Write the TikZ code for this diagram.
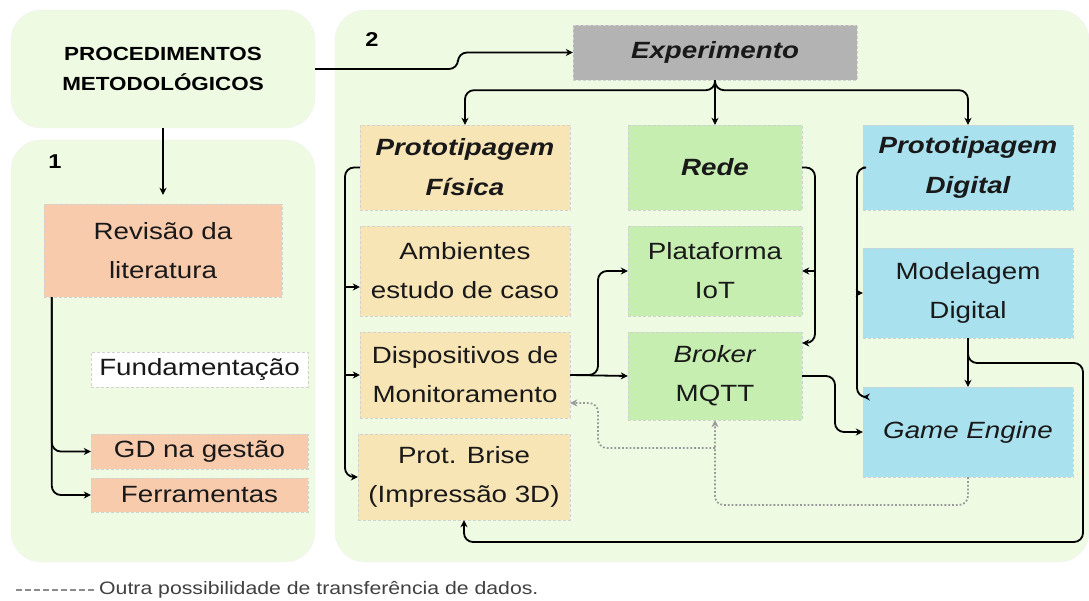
\documentclass[tikz,border=0pt]{standalone}
\usepackage{fontspec}
\setmainfont[FakeStretch=1.18]{Liberation Sans}
\usetikzlibrary{arrows.meta}

\definecolor{fundo}{HTML}{EFFAE3}
\definecolor{salmao}{HTML}{F8CBAD}
\definecolor{areia}{HTML}{F8E5B6}
\definecolor{verde}{HTML}{C6EEB0}
\definecolor{azul}{HTML}{A9E1EF}
\definecolor{cinza}{HTML}{B3B3B3}

\tikzstyle{painel} = [rounded corners=30pt, fill=fundo, draw=black!5, inner sep=0pt]
\tikzstyle{caixa} = [draw=black!18, densely dashed, inner sep=0pt, align=center, text=black!90, font=\fontsize{23.5}{39}\selectfont]
\tikzstyle{titulo} = [caixa, font=\fontsize{23.5}{40}\selectfont\bfseries\itshape]
\tikzstyle{seta} = [->, line width=1.8pt, rounded corners=9pt]
\tikzstyle{ponto} = [->, black!40, line width=1.8pt, dotted, rounded corners=9pt]

\begin{document}
\begin{tikzpicture}[x=1pt, y=-1pt, >={Stealth[length=7pt,width=7pt]}]
	\useasboundingbox (0,0) rectangle (1089,601);
	% paineis
	\node[painel, minimum width=304, minimum height=118, align=center, font=\fontsize{19}{30}\selectfont\bfseries] (proc) at (163,69) {PROCEDIMENTOS\\METODOLÓGICOS};
	\node[painel, minimum width=304, minimum height=422] (etapa1) at (163,351) {};
	\node[painel, minimum width=754, minimum height=552] (etapa2) at (712,286) {};
	\node[font=\fontsize{20}{24}\selectfont\bfseries] (n1) at (55,162) {1};
	\node[font=\fontsize{20}{24}\selectfont\bfseries] (n2) at (372,40) {2};
	% caixas
	\foreach \n/\x/\y/\w/\h/\c/\t in {
		rev/163/250.5/238/93/salmao/{Revisão da\\literatura},
		fund/199.5/369.5/217/35/white/{Fundamentação},
		gd/199.5/451.5/217/35/salmao/{GD na gestão},
		ferr/199.5/495/217/34/salmao/{Ferramentas},
		amb/465/271/210/90/areia/{Ambientes\\estudo de caso},
		disp/465/375/210/86/areia/{Dispositivos de\\Monitoramento},
		brise/464/477/212/86/areia/{Prot. Brise\\(Impressão 3D)},
		iot/715/271/174/90/verde/{Plataforma\\IoT},
		mqtt/715/376/174/88/verde/{\textit{Broker}\\MQTT},
		model/968/293/210/90/azul/{Modelagem\\Digital},
		game/968/432/210/90/azul/{\textit{Game Engine}}}
	\node[caixa, fill=\c, minimum width=\w, minimum height=\h] (\n) at (\x,\y) {\t};
	\node[titulo, fill=cinza, minimum width=284, minimum height=55] (exp) at (715,52.5) {Experimento};
	\node[titulo, fill=areia, minimum width=210, minimum height=85] (pfis) at (465,167.5) {Prototipagem\\Física};
	\node[titulo, fill=verde, minimum width=174, minimum height=85] (rede) at (715,167.5) {Rede};
	\node[titulo, fill=azul, minimum width=210, minimum height=85] (pdig) at (968,167.5) {Prototipagem\\Digital};
	% etapa 1
	\draw[seta] (proc.east) -- (458,69) -- (458,52.5) -- (exp.west);
	\draw[seta, shorten >=9pt] (proc.south) -- (rev.north);
	\draw[seta] ([xshift=8pt]rev.south west) |- (gd.west);
	\draw[seta] ([xshift=8pt]rev.south west) |- (ferr.west);
	% experimento
	\draw[seta] (exp.south) -- ++(0,10) -| (pfis.north);
	\draw[seta] (exp.south) -- ++(0,10) -| (pdig.north);
	\draw[seta] (exp.south) -- (rede.north);
	% prototipagem fisica
	\draw[seta] (pfis.west) -- (345,167.5) |- (brise.west);
	\draw[seta] (345,287) -- (amb.west |- 0,287);
	\draw[seta] (345,375) -- (disp.west);
	% rede
	\draw[seta] (rede.east) -- (815,167.5) |- ([yshift=33pt]mqtt.east);
	\draw[seta] (815,271) -- (iot.east);
	% prototipagem digital
	\draw[seta] (pdig.west) -- (857,167.5) |- ([yshift=35pt]game.west);
	\draw[seta] (857,293) -- (model.west);
	\draw[seta] (model.south) -- (game.north);
	\draw[seta] (model.south) -- (968,363) -- (1083,363) -- (1083,542) -- (464,542) -- (brise.south);
	% dados
	\draw[seta] (disp.east) -- (mqtt.west);
	\draw[seta] (disp.east) -- (598,375) |- (iot.west);
	\draw[seta] (mqtt.east) -- (835,376) |- (game.west);
	\draw[ponto] (game.south) -- (968,505) -- (715,505) -- (mqtt.south);
	\draw[ponto] (715,448) -- (598,448) -- (598,403) -- ([yshift=-28pt]disp.east);
	% legenda
	\draw[black!45, dash pattern=on 6pt off 3pt, line width=1.2pt] (16,590) coordinate (leg) -- (96,590) coordinate (legfim);
	\node[anchor=west, inner sep=3pt, text=black!75, font=\fontsize{18}{20}\selectfont] (legtxt) at (legfim) {Outra possibilidade de transferência de dados.};
\end{tikzpicture}
\end{document}
